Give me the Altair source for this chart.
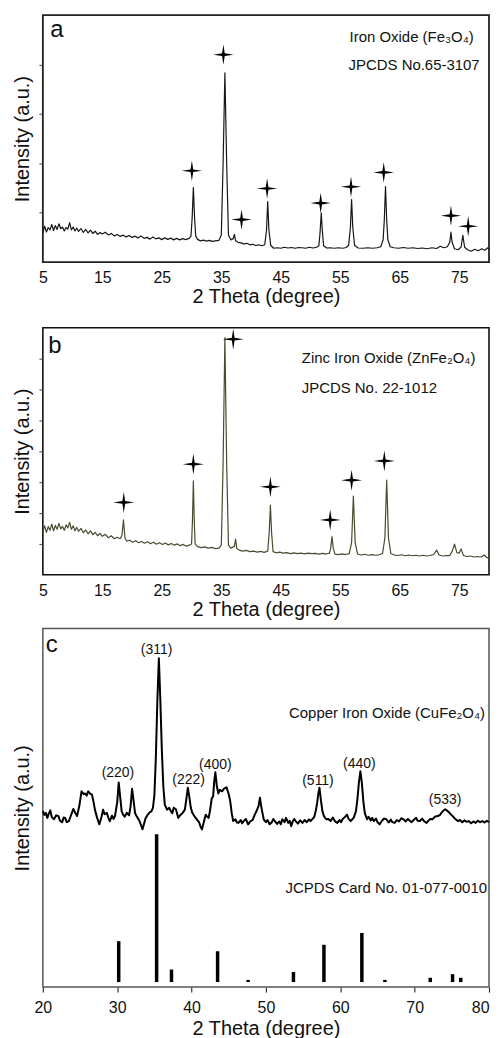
import altair as alt
import pandas as pd

FONT = "Liberation Sans"
STAR = "M0,-1L0.13,-0.13L1,0L0.13,0.13L0,1L-0.13,0.13L-1,0L-0.13,-0.13Z"

# ---------------- Panel a : Fe3O4 (2-theta, intensity a.u.) ----------------
a_trace = [
    (5.0, 12.0), (5.3, 14.5), (5.6, 12.2), (5.9, 14.0), (6.2, 13.0), (6.5, 15.2), (6.8, 12.8),
    (7.1, 14.8), (7.4, 13.2), (7.7, 15.5), (8.0, 13.5), (8.3, 14.2), (8.6, 12.6), (8.9, 14.0),
    (9.2, 13.4), (9.5, 16.0), (9.8, 13.0), (10.1, 14.2), (10.4, 12.6), (10.7, 13.8), (11.0, 12.4),
    (11.4, 13.6), (11.8, 12.0), (12.2, 13.2), (12.6, 11.8), (13.0, 12.9), (13.4, 11.6), (13.8, 12.5),
    (14.2, 11.2), (14.6, 12.0), (15.0, 11.4), (15.5, 12.1), (16.0, 11.0), (16.5, 11.6), (17.0, 10.6),
    (17.5, 11.2), (18.0, 10.4), (18.5, 10.9), (19.0, 10.2), (19.5, 10.8), (20.0, 10.0), (20.5, 10.5),
    (21.0, 9.8), (21.5, 10.6), (22.0, 9.6), (22.5, 10.0), (23.0, 9.3), (23.5, 10.2), (24.0, 9.4),
    (24.5, 9.8), (25.0, 9.1), (25.5, 9.8), (26.0, 9.2), (26.5, 9.7), (27.0, 9.0), (27.5, 9.6),
    (28.0, 9.0), (28.5, 9.5), (29.0, 9.1), (29.6, 9.6), (29.9, 10.5), (30.1, 18.0), (30.3, 30.2),
    (30.5, 18.0), (30.7, 10.5), (31.0, 9.2), (31.5, 8.6), (32.0, 8.9), (32.5, 8.5), (33.0, 8.8),
    (33.5, 8.4), (34.0, 8.6), (34.6, 8.8), (35.0, 11.0), (35.3, 40.0), (35.6, 76.6), (35.9, 40.0),
    (36.2, 11.0), (36.6, 9.0), (37.0, 9.5), (37.2, 11.2), (37.4, 8.6), (37.8, 8.0), (38.3, 7.8),
    (38.8, 7.4), (39.3, 7.6), (39.8, 7.0), (40.3, 7.2), (40.8, 6.7), (41.3, 7.0), (41.8, 6.6),
    (42.3, 7.0), (42.6, 13.0), (42.8, 24.5), (43.0, 13.0), (43.3, 6.8), (43.8, 5.6), (44.4, 5.8),
    (45.0, 5.6), (45.6, 6.0), (46.2, 5.7), (46.8, 5.9), (47.4, 5.6), (48.0, 5.9), (48.6, 5.8),
    (49.2, 5.6), (49.8, 6.0), (50.4, 5.7), (51.0, 6.0), (51.4, 6.6), (51.6, 12.0), (51.8, 19.9),
    (52.0, 12.0), (52.2, 6.6), (52.7, 5.7), (53.3, 5.8), (54.0, 5.6), (54.7, 5.8), (55.4, 5.6),
    (56.0, 5.9), (56.4, 6.8), (56.7, 14.0), (56.9, 25.3), (57.1, 14.0), (57.4, 6.8), (58.0, 5.7),
    (58.8, 5.6), (59.6, 5.8), (60.4, 5.6), (61.2, 5.8), (61.8, 6.2), (62.2, 9.0), (62.4, 17.0),
    (62.6, 30.6), (62.8, 17.0), (63.0, 9.0), (63.4, 6.2), (64.0, 5.8), (64.8, 5.6), (65.6, 5.9),
    (66.4, 5.6), (67.2, 5.8), (68.0, 5.5), (68.8, 5.7), (69.6, 5.4), (70.4, 5.8), (71.2, 5.5),
    (71.8, 6.4), (72.4, 5.8), (73.0, 6.2), (73.4, 8.0), (73.6, 12.1), (73.8, 8.0), (74.2, 5.4),
    (74.8, 5.0), (75.3, 6.0), (75.6, 10.8), (75.9, 6.0), (76.4, 5.0), (77.0, 4.4), (77.6, 5.2),
    (78.2, 4.6), (78.8, 5.4), (79.3, 4.8), (79.8, 5.8), (80.0, 5.2),
]
a_star_theta = [30.05, 35.35, 38.4, 42.7, 51.7, 56.8, 62.3, 73.6, 76.5]
a_star_int = [37.0, 84.0, 17.2, 29.8, 23.9, 30.5, 36.3, 18.8, 14.5]
a_yticks = [20, 40, 60, 80]

# ---------------- Panel b : ZnFe2O4 ----------------
b_trace = [
    (5.0, 17.5), (5.3, 19.8), (5.6, 17.2), (5.9, 19.5), (6.2, 18.0), (6.5, 20.5), (6.8, 17.8),
    (7.1, 20.0), (7.4, 18.4), (7.7, 20.8), (8.0, 18.6), (8.3, 19.6), (8.6, 18.0), (8.9, 20.2),
    (9.2, 19.0), (9.5, 21.2), (9.8, 18.4), (10.1, 19.8), (10.4, 17.8), (10.7, 19.2), (11.0, 17.6),
    (11.4, 18.8), (11.8, 17.0), (12.2, 18.2), (12.6, 16.6), (13.0, 17.8), (13.4, 16.2), (13.8, 17.2),
    (14.2, 15.8), (14.6, 16.8), (15.0, 15.6), (15.5, 16.4), (16.0, 15.0), (16.5, 15.8), (17.0, 14.6),
    (17.5, 15.2), (18.0, 14.6), (18.3, 16.0), (18.55, 22.2), (18.8, 15.0), (19.1, 13.6), (19.6, 14.0),
    (20.1, 13.2), (20.6, 13.8), (21.1, 13.0), (21.6, 13.5), (22.1, 12.8), (22.6, 13.4), (23.1, 12.6),
    (23.6, 13.2), (24.1, 12.4), (24.6, 13.0), (25.1, 12.3), (25.6, 12.9), (26.1, 12.1), (26.6, 12.7),
    (27.1, 12.0), (27.6, 12.5), (28.1, 11.8), (28.6, 12.3), (29.1, 11.6), (29.6, 12.0), (30.0, 12.5),
    (30.15, 22.0), (30.3, 38.0), (30.45, 22.0), (30.6, 12.5), (31.0, 11.4), (31.6, 11.0), (32.2, 11.3),
    (32.8, 10.8), (33.4, 11.1), (34.0, 10.6), (34.6, 10.8), (35.0, 12.0), (35.3, 45.0), (35.6, 96.0),
    (35.9, 45.0), (36.2, 12.0), (36.6, 10.8), (37.2, 11.5), (37.4, 14.5), (37.6, 10.6), (38.0, 10.0),
    (38.6, 9.6), (39.2, 9.9), (39.8, 9.4), (40.4, 9.6), (41.0, 9.2), (41.6, 9.5), (42.2, 9.1),
    (42.8, 9.6), (43.05, 17.0), (43.25, 28.2), (43.45, 17.0), (43.7, 9.4), (44.2, 8.9), (44.8, 9.2),
    (45.4, 8.8), (46.0, 9.0), (46.6, 8.6), (47.2, 8.9), (47.8, 8.6), (48.4, 8.8), (49.0, 8.5),
    (49.6, 8.8), (50.2, 8.6), (50.8, 8.7), (51.4, 8.4), (52.0, 8.7), (52.6, 8.4), (53.2, 8.8),
    (53.4, 11.0), (53.6, 15.5), (53.8, 11.0), (54.1, 8.4), (54.7, 8.2), (55.3, 8.5), (55.9, 8.2),
    (56.5, 8.6), (56.9, 13.0), (57.2, 31.9), (57.5, 13.0), (57.9, 8.4), (58.5, 8.0), (59.1, 8.3),
    (59.7, 7.9), (60.3, 8.2), (60.9, 7.9), (61.5, 8.1), (62.1, 8.6), (62.5, 15.0), (62.8, 38.3),
    (63.1, 15.0), (63.5, 8.6), (64.1, 8.0), (64.7, 7.8), (65.3, 8.1), (65.9, 7.7), (66.5, 8.0),
    (67.1, 7.7), (67.7, 7.9), (68.3, 7.6), (68.9, 7.9), (69.5, 7.6), (70.1, 7.8), (70.7, 8.2),
    (71.2, 10.0), (71.6, 8.0), (72.2, 7.6), (72.8, 7.8), (73.4, 7.8), (73.8, 9.5), (74.2, 12.4),
    (74.6, 9.0), (75.0, 8.8), (75.3, 10.5), (75.7, 7.8), (76.3, 7.4), (76.9, 7.6), (77.5, 7.2),
    (78.1, 7.4), (78.7, 7.2), (79.2, 8.0), (79.6, 7.0), (80.0, 6.6),
]
b_star_theta = [18.6, 30.3, 37.0, 43.25, 53.3, 56.9, 62.4]
b_star_int = [29.3, 44.8, 95.4, 35.6, 22.2, 38.3, 46.1]
b_yticks = [12.5, 25, 37.5, 50, 62.5, 75, 87.5]

# ---------------- Panel c : CuFe2O4 ----------------
c_trace = [
    (20.0, 49.1), (20.2, 48.0), (20.4, 48.6), (20.6, 47.2), (20.8, 48.4), (21.0, 49.3), (21.2, 47.4),
    (21.5, 46.8), (21.8, 47.9), (22.1, 47.7), (22.3, 46.4), (22.6, 46.0), (22.8, 47.3), (23.0, 47.2),
    (23.2, 46.0), (23.5, 46.3), (23.8, 48.0), (24.1, 49.7), (24.4, 48.4), (24.6, 47.7), (24.9, 50.5),
    (25.2, 54.6), (25.5, 53.8), (25.7, 54.0), (25.9, 53.4), (26.1, 54.6), (26.4, 53.9), (26.6, 53.7),
    (26.8, 51.8), (27.0, 49.5), (27.3, 47.2), (27.6, 45.4), (27.9, 47.6), (28.1, 49.5), (28.3, 48.2),
    (28.6, 48.6), (28.8, 47.3), (29.0, 46.3), (29.3, 47.8), (29.5, 46.9), (29.7, 47.7), (30.0, 51.5),
    (30.2, 57.1), (30.4, 53.0), (30.6, 49.0), (30.8, 48.1), (31.0, 47.5), (31.3, 48.6), (31.6, 47.9),
    (31.8, 50.5), (32.0, 55.3), (32.2, 52.0), (32.4, 48.5), (32.6, 47.7), (32.8, 47.0), (33.0, 46.3),
    (33.2, 45.2), (33.4, 44.0), (33.6, 45.5), (33.8, 47.0), (34.1, 48.1), (34.4, 48.8), (34.6, 49.0),
    (34.8, 50.0), (35.0, 53.5), (35.2, 64.3), (35.4, 80.0), (35.6, 91.7), (35.8, 80.0), (36.0, 66.2),
    (36.2, 56.0), (36.4, 50.9), (36.7, 49.5), (37.0, 50.0), (37.2, 49.1), (37.4, 48.5), (37.6, 50.0),
    (37.9, 49.6), (38.2, 47.2), (38.5, 48.0), (38.8, 48.6), (39.1, 49.5), (39.3, 52.5), (39.5, 55.6),
    (39.7, 53.0), (39.9, 50.0), (40.1, 48.6), (40.4, 47.6), (40.7, 46.8), (41.0, 46.0), (41.2, 44.8),
    (41.4, 44.0), (41.6, 45.6), (41.9, 48.1), (42.1, 47.5), (42.3, 47.2), (42.5, 49.5), (42.7, 52.5),
    (42.9, 53.2), (43.05, 57.5), (43.2, 59.9), (43.4, 56.0), (43.6, 54.0), (43.8, 55.0), (44.1, 54.6),
    (44.4, 55.4), (44.7, 55.7), (45.0, 53.8), (45.2, 51.8), (45.4, 48.5), (45.6, 46.3), (45.9, 46.8),
    (46.1, 45.9), (46.3, 45.8), (46.6, 46.6), (46.8, 45.7), (47.0, 46.3), (47.3, 46.9), (47.6, 45.4),
    (47.9, 46.2), (48.2, 46.6), (48.5, 48.1), (48.8, 49.4), (49.0, 50.5), (49.2, 52.8), (49.4, 50.0),
    (49.7, 46.8), (50.0, 46.0), (50.2, 46.6), (50.5, 45.4), (50.8, 46.0), (51.0, 46.9), (51.2, 46.3),
    (51.5, 45.5), (51.8, 46.2), (52.0, 45.4), (52.2, 46.8), (52.5, 46.0), (52.7, 47.2), (53.0, 45.8),
    (53.2, 46.4), (53.4, 44.9), (53.6, 46.2), (53.8, 46.9), (54.0, 46.3), (54.3, 45.6), (54.6, 46.5),
    (54.9, 45.8), (55.2, 46.6), (55.5, 46.0), (55.8, 46.8), (56.0, 46.3), (56.3, 47.0), (56.5, 47.5),
    (56.7, 49.1), (56.9, 51.5), (57.05, 54.0), (57.2, 55.6), (57.4, 52.0), (57.6, 49.0), (57.8, 47.7),
    (58.1, 46.8), (58.4, 46.9), (58.7, 46.3), (59.0, 47.3), (59.3, 46.2), (59.6, 45.8), (59.9, 46.6),
    (60.1, 46.0), (60.3, 46.8), (60.6, 47.4), (60.9, 48.1), (61.1, 47.0), (61.4, 46.3), (61.6, 46.8),
    (61.8, 47.2), (62.1, 49.0), (62.3, 52.3), (62.5, 57.0), (62.7, 60.2), (62.9, 57.0), (63.1, 51.8),
    (63.3, 48.5), (63.6, 46.8), (63.8, 47.5), (64.1, 46.5), (64.3, 47.2), (64.5, 46.3), (64.8, 47.0),
    (65.0, 46.0), (65.3, 45.4), (65.6, 46.4), (65.9, 47.0), (66.2, 46.8), (66.5, 45.9), (66.8, 46.7),
    (67.0, 46.0), (67.3, 45.8), (67.6, 46.6), (67.9, 46.2), (68.2, 47.1), (68.5, 46.8), (68.8, 46.2),
    (69.1, 46.9), (69.4, 46.3), (69.6, 46.0), (69.9, 46.7), (70.2, 47.2), (70.4, 46.4), (70.7, 46.3),
    (71.0, 47.0), (71.3, 46.2), (71.6, 45.8), (71.9, 46.5), (72.1, 46.9), (72.4, 46.8), (72.7, 47.5),
    (73.1, 47.7), (73.4, 48.0), (73.6, 48.6), (73.8, 49.1), (74.1, 49.6), (74.3, 49.3), (74.6, 48.8),
    (74.9, 48.1), (75.2, 47.5), (75.5, 46.8), (75.8, 46.3), (76.1, 46.6), (76.4, 46.0), (76.7, 46.5),
    (77.0, 46.1), (77.3, 46.3), (77.6, 45.7), (77.9, 46.2), (78.2, 45.8), (78.5, 46.4), (78.8, 46.0),
    (79.1, 46.3), (79.4, 45.9), (79.7, 46.4), (80.0, 46.0),
]
# JCPDS 01-077-0010 reference lines
c_ref_theta = [30.2, 35.3, 37.3, 43.5, 47.6, 53.7, 57.8, 62.9, 66.0, 72.1, 75.1, 76.2]
c_ref_int = [12.8, 42.6, 4.9, 10.0, 2.0, 4.2, 11.8, 15.1, 2.0, 2.6, 3.6, 2.6]
c_ref_base = 1.4
# Miller indices
c_hkl = ["(220)", "(311)", "(222)", "(400)", "(511)", "(440)", "(533)"]
c_hkl_theta = [30.1, 35.3, 39.6, 43.2, 57.0, 62.55, 74.1]
c_hkl_int = [59.7, 94.0, 57.7, 62.0, 57.4, 62.3, 52.3]


def xaxis(values, tick, lpad, tpad, last=None):
    extra = {}
    if last is not None:
        extra["labelAlign"] = {"condition": {"test": f"datum.value == {last}", "value": "right"},
                               "value": "center"}
    return alt.Axis(values=values, title="2 Theta (degree)", domain=False, grid=False,
                    ticks=tick > 0, tickSize=tick, tickColor="#333", tickWidth=1.2,
                    labelFont=FONT, labelFontSize=16, labelColor="#111", labelPadding=lpad,
                    labelFlush=False, titleFont=FONT, titleFontSize=20, titleFontWeight="normal",
                    titleColor="#111", titlePadding=tpad, **extra)


def yaxis(values, tick, tpad):
    return alt.Axis(values=values, title="Intensity (a.u.)", domain=False, grid=False, labels=False,
                    ticks=tick > 0, tickSize=tick, tickColor="#444", tickWidth=1,
                    titleFont=FONT, titleFontSize=20, titleFontWeight="normal", titleColor="#111",
                    titlePadding=tpad)


def text_layer(txt, x, y, size=15, align="left"):
    return alt.Chart(pd.DataFrame({"s": [txt]})).mark_text(
        font=FONT, fontSize=size, align=align, baseline="middle", color="#111"
    ).encode(text="s:N", x=alt.value(x), y=alt.value(y))


XT = [5, 15, 25, 35, 45, 55, 65, 75]

# ---- panel a ----
Xa = alt.X("t:Q", scale=alt.Scale(domain=[5, 80], nice=False, zero=False), axis=xaxis(XT, 0, 7.5, 1))
Ya = alt.Y("i:Q", scale=alt.Scale(domain=[0, 100], nice=False, zero=False), axis=yaxis(a_yticks, 4, 6))
la = alt.Chart(pd.DataFrame(a_trace, columns=["t", "i"])).mark_line(
    color="#161616", strokeWidth=1.2, strokeJoin="round").encode(x=Xa, y=Ya)
sa = alt.Chart(pd.DataFrame({"t": a_star_theta, "i": a_star_int})).mark_point(
    shape=STAR, filled=True, color="#000", size=420, opacity=1, strokeWidth=0).encode(x=Xa, y=Ya)
panel_a = alt.layer(
    la, sa,
    text_layer("a", 14, 14.5, 24, "center"),
    text_layer("Iron Oxide (Fe\u2083O\u2084)", 308, 22),
    text_layer("JPCDS No.65-3107", 307, 50),
).properties(width=448, height=248, view=alt.ViewBackground(stroke="#222", strokeWidth=1.8))

# ---- panel b ----
Xb = alt.X("t:Q", scale=alt.Scale(domain=[5, 80], nice=False, zero=False), axis=xaxis(XT, 0, 7.5, 1))
Yb = alt.Y("i:Q", scale=alt.Scale(domain=[0, 100], nice=False, zero=False), axis=yaxis(b_yticks, 4, 6))
lb = alt.Chart(pd.DataFrame(b_trace, columns=["t", "i"])).mark_line(
    color="#4a4a30", strokeWidth=1.2, strokeJoin="round").encode(x=Xb, y=Yb)
sb = alt.Chart(pd.DataFrame({"t": b_star_theta, "i": b_star_int})).mark_point(
    shape=STAR, filled=True, color="#000", size=441, opacity=1, strokeWidth=0).encode(x=Xb, y=Yb)
panel_b = alt.layer(
    lb, sb,
    text_layer("b", 12, 18, 24, "center"),
    text_layer("Zinc Iron Oxide (ZnFe\u2082O\u2084)", 260, 30),
    text_layer("JPCDS No. 22-1012", 260, 60),
).properties(width=448, height=248, view=alt.ViewBackground(stroke="#111", strokeWidth=1.6))

# ---- panel c ----
Xc = alt.X("t:Q", scale=alt.Scale(domain=[20, 80], nice=False, zero=False),
           axis=xaxis([20, 30, 40, 50, 60, 70, 80], 5, 7.5, 3, last=80))
Yc = alt.Y("i:Q", scale=alt.Scale(domain=[0, 100], nice=False, zero=False), axis=yaxis([], 0, 10))
lc = alt.Chart(pd.DataFrame(c_trace, columns=["t", "i"])).mark_line(
    color="#000", strokeWidth=2, strokeJoin="round").encode(x=Xc, y=Yc)
rc = alt.Chart(pd.DataFrame({"t": c_ref_theta, "i": c_ref_int})).mark_rule(
    color="#000", strokeWidth=3.5, strokeCap="butt").encode(x=Xc, y=Yc, y2=alt.datum(c_ref_base))
hc = alt.Chart(pd.DataFrame({"t": c_hkl_theta, "i": c_hkl_int, "s": c_hkl})).mark_text(
    font=FONT, fontSize=14, color="#111", baseline="middle", align="center").encode(x=Xc, y=Yc, text="s:N")
panel_c = alt.layer(
    lc, rc, hc,
    text_layer("c", 9, 16.5, 24, "center"),
    text_layer("Copper Iron Oxide (CuFe\u2082O\u2084)", 444, 85, 15, "right"),
    text_layer("JCPDS Card No. 01-077-0010", 446, 261, 15, "right"),
).properties(width=448, height=360, view=alt.ViewBackground(stroke="#555", strokeWidth=1.5))

top = alt.vconcat(panel_a, panel_b, spacing=19)
chart = alt.vconcat(top, panel_c, spacing=7).properties(
    padding={"left": 3, "top": 4, "right": 0, "bottom": 0}
).configure(font=FONT).configure_view(fill="white")

chart.save("out.html", embed_options={"renderer": "svg", "actions": False})
